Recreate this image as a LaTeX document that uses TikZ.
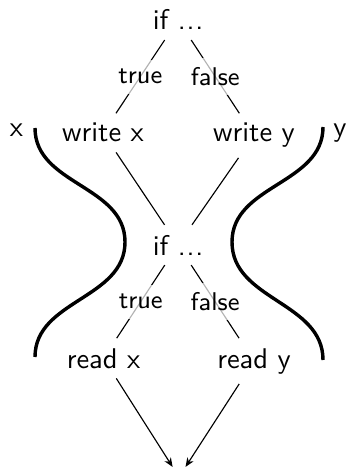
\documentclass[tikz,border=0pt]{standalone}
\usetikzlibrary{arrows.meta}
\begin{document}
\begin{tikzpicture}[x=0.351pt,y=-0.351pt,
  every node/.style={font=\sffamily},
  txt/.style={anchor=base},
  lbl/.style={font=\sffamily\small,fill=white,fill opacity=0.7,text opacity=1},
  conn/.style={draw,thin},
  arr/.style={conn,-{Stealth[length=3.2pt,width=2.6pt,inset=1pt]}},
  brace/.style={draw,line width=1.2pt}]
\useasboundingbox (0,0) rectangle (348,472);
\newcommand\mydots{.\kern0.3pt.\kern0.3pt.}
\node[txt] (if1) at (178,30) {if \mydots};
\node[txt] (wx) at (103,142) {write x};
\node[txt] (wy) at (254,142) {write y};
\node[txt] (if2) at (178,255) {if \mydots};
\node[txt] (rx) at (103.5,368) {read x};
\node[txt] (ry) at (254,368) {read y};
\node[txt] (lx) at (16.5,137) {x};
\node[txt] (ly) at (340,137) {y};
\node (end) at (179,477) {};
\draw[conn] (if1) -- node[lbl] {true} (wx);
\draw[conn] (if1) -- node[lbl] {false} (wy);
\draw[conn] (wx) -- (if2);
\draw[conn] (wy) -- (if2);
\draw[conn] (if2) -- node[lbl] {true} (rx);
\draw[conn] (if2) -- node[lbl] {false} (ry);
\draw[arr] (rx) -- (end);
\draw[arr] (ry) -- (end);
\coordinate (l1) at (35,128);
\coordinate (l2) at (125,242);
\coordinate (l3) at (35,357);
\coordinate (r1) at (323,127);
\coordinate (r2) at (232,242);
\coordinate (r3) at (323,360);
\draw[brace] (l1) to[out=-90,in=90] (l2) to[out=-90,in=90] (l3);
\draw[brace] (r1) to[out=-90,in=90] (r2) to[out=-90,in=90] (r3);
\end{tikzpicture}
\end{document}
